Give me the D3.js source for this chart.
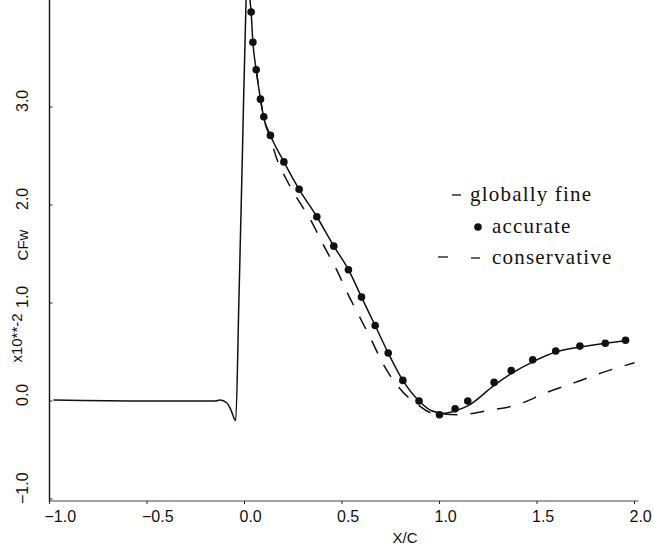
<!DOCTYPE html>
<html lang="en">
<head>
  <meta charset="UTF-8">
  <title>CFw vs X/C</title>
  <script src="https://d3js.org/d3.v7.min.js"></script>
  <style>
    body { margin: 0; background: #fff; }
    svg { display: block; }
    .tick-label { font-family: "Liberation Sans", Arial, sans-serif; font-size: 16px; fill: #111; }
    .axis-title { font-family: "Liberation Sans", Arial, sans-serif; font-size: 15px; fill: #111; }
    .legend text { font-family: "Liberation Serif", serif; font-size: 21px; letter-spacing: 1.2px; fill: #111; }
  </style>
</head>
<body>
  <svg id="chart" width="654" height="545"></svg>
  <script>
    // "globally fine" solid curve
    const fineX = [-0.98, -0.5, -0.15, -0.125, -0.09, -0.07, -0.045, -0.029, -0.011, 0.008, 0.018, 0.028,
      0.034, 0.043, 0.06, 0.082, 0.10, 0.133, 0.202, 0.28, 0.371, 0.458, 0.533, 0.60, 0.67, 0.737,
      0.812, 0.895, 0.96, 1.02, 1.08, 1.145, 1.28, 1.368, 1.478, 1.596, 1.72, 1.85, 1.954];
    const fineY = [0.01, 0.0, 0.0, 0.01, -0.02, -0.09, -0.20, 1.0, 2.5, 4.09, 4.5, 4.1,
      3.97, 3.66, 3.38, 3.08, 2.88, 2.71, 2.44, 2.16, 1.88, 1.58, 1.34, 1.06, 0.77, 0.49,
      0.21, 0.0, -0.10, -0.125, -0.10, -0.05, 0.16, 0.28, 0.40, 0.50, 0.55, 0.59, 0.615];

    // "accurate" dots
    const accX = [0.034, 0.043, 0.06, 0.082, 0.099, 0.133, 0.202, 0.28, 0.371, 0.458, 0.533, 0.60, 0.67,
      0.737, 0.812, 0.895, 1.0, 1.08, 1.145, 1.28, 1.368, 1.478, 1.596, 1.72, 1.85, 1.954];
    const accY = [3.97, 3.66, 3.38, 3.08, 2.90, 2.71, 2.44, 2.16, 1.88, 1.58, 1.34, 1.06, 0.77,
      0.49, 0.21, 0.0, -0.14, -0.08, 0.0, 0.19, 0.31, 0.42, 0.51, 0.56, 0.59, 0.62];

    // "conservative" dashed curve
    const consX = [0.06, 0.10, 0.133, 0.164, 0.215, 0.26, 0.338, 0.405, 0.472, 0.533, 0.59, 0.651,
      0.713, 0.795, 0.897, 0.959, 1.10, 1.24, 1.395, 1.554, 1.697, 1.85, 2.0];
    const consY = [3.38, 2.88, 2.68, 2.48, 2.26, 2.10, 1.85, 1.59, 1.34, 1.08, 0.86, 0.62,
      0.37, 0.13, -0.05, -0.12, -0.14, -0.10, -0.04, 0.09, 0.19, 0.30, 0.39];

    const xTicks = [-1.0, -0.5, 0.0, 0.5, 1.0, 1.5, 2.0];
    const yTicks = [-1.0, 0.0, 1.0, 2.0, 3.0];

    const svg = d3.select("#chart");
    const x = d3.scaleLinear().domain([-1, 2]).range([49.5, 634.5]);
    const y = d3.scaleLinear().domain([-1, 4]).range([499, 9]);
    const axisY = 501;

    svg.append("clipPath").attr("id", "plot")
      .append("rect").attr("x", 49).attr("y", 0).attr("width", 605).attr("height", axisY);

    // axes
    svg.append("line").attr("x1", x(-1)).attr("x2", x(-1)).attr("y1", 0).attr("y2", axisY + 1)
      .attr("stroke", "#111").attr("stroke-width", 1.4);
    svg.append("line").attr("x1", x(-1)).attr("x2", x(2) + 4).attr("y1", axisY).attr("y2", axisY)
      .attr("stroke", "#444").attr("stroke-width", 1);

    svg.selectAll(".xt").data(xTicks).join("line")
      .attr("x1", d => x(d)).attr("x2", d => x(d))
      .attr("y1", axisY).attr("y2", axisY + 3)
      .attr("stroke", "#222");
    svg.selectAll(".xl").data(xTicks).join("text")
      .attr("class", "tick-label")
      .attr("x", d => x(d) - 5).attr("y", 522)
      .text(d => d3.format(".1f")(d).replace("-", "\u2013"));

    svg.selectAll(".yt").data(yTicks).join("line")
      .attr("x1", x(-1)).attr("x2", x(-1) + 3)
      .attr("y1", d => y(d)).attr("y2", d => y(d))
      .attr("stroke", "#222");
    svg.selectAll(".yl").data(yTicks).join("text")
      .attr("class", "tick-label")
      .attr("transform", d => `translate(28,${y(d) + 5}) rotate(-90)`)
      .text(d => d3.format(".1f")(d).replace("-", "\u2013"));

    svg.append("text").attr("class", "axis-title")
      .attr("x", 405).attr("y", 543).attr("text-anchor", "middle").text("X/C");
    svg.append("text").attr("class", "axis-title")
      .attr("transform", "translate(28,245) rotate(-90)").attr("text-anchor", "middle").text("CFw");
    svg.append("text").attr("class", "axis-title")
      .attr("transform", "translate(22,338) rotate(-90)").attr("text-anchor", "middle").text("x10**-2");

    const line = d3.line().x(d => x(d[0])).y(d => y(d[1])).curve(d3.curveMonotoneX);
    const plot = svg.append("g").attr("clip-path", "url(#plot)");

    plot.append("path").datum(d3.zip(consX, consY))
      .attr("d", line).attr("fill", "none").attr("stroke", "#111")
      .attr("stroke-width", 1.5).attr("stroke-dasharray", "14 13");
    plot.append("path").datum(d3.zip(fineX, fineY))
      .attr("d", line).attr("fill", "none").attr("stroke", "#111").attr("stroke-width", 1.5);
    plot.selectAll(".dot").data(d3.zip(accX, accY)).join("circle")
      .attr("cx", d => x(d[0])).attr("cy", d => y(d[1])).attr("r", 3.8).attr("fill", "#111");

    // legend
    const lg = svg.append("g").attr("class", "legend");
    lg.append("line").attr("x1", 452).attr("x2", 461).attr("y1", 195).attr("y2", 195)
      .attr("stroke", "#111").attr("stroke-width", 1.3);
    lg.append("text").attr("x", 470).attr("y", 201).text("globally fine");
    lg.append("circle").attr("cx", 478).attr("cy", 227).attr("r", 3.8).attr("fill", "#111");
    lg.append("text").attr("x", 492).attr("y", 233).text("accurate");
    lg.append("line").attr("x1", 438).attr("x2", 448).attr("y1", 257).attr("y2", 257)
      .attr("stroke", "#111").attr("stroke-width", 1.3);
    lg.append("line").attr("x1", 471).attr("x2", 480).attr("y1", 258).attr("y2", 258)
      .attr("stroke", "#111").attr("stroke-width", 1.3);
    lg.append("text").attr("x", 492).attr("y", 264).text("conservative");
  </script>
</body>
</html>
